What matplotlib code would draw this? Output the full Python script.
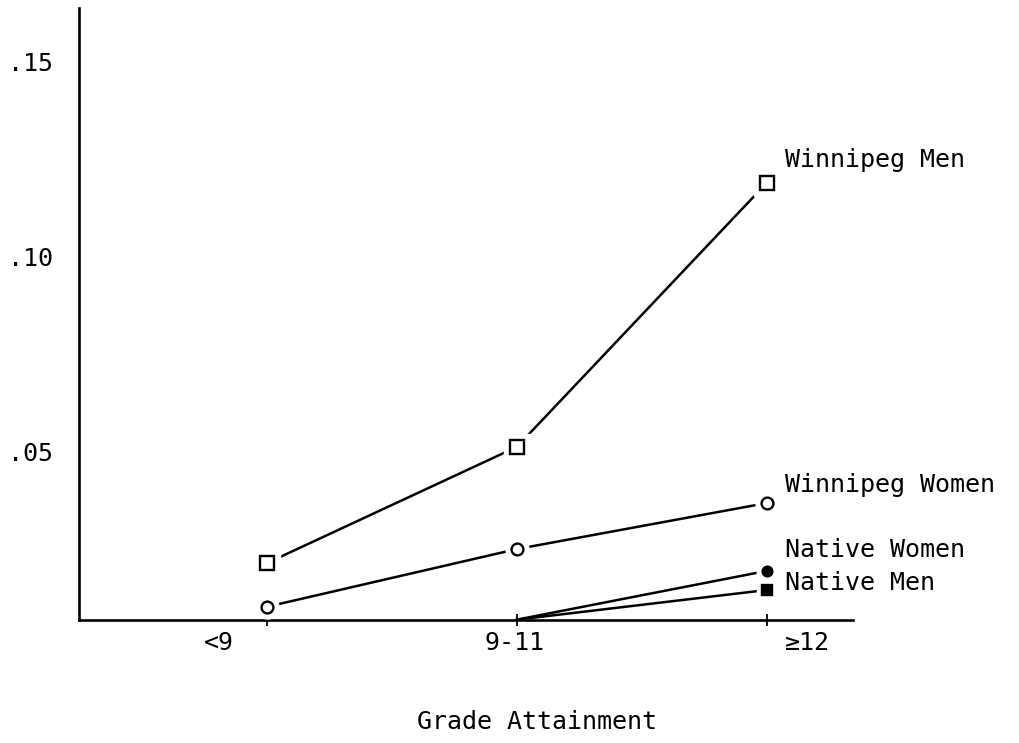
import matplotlib.pyplot as plt

# values
grades = ['<9', '9-11', '≥12']
winnipeg_men = [0.0215, 0.0513, 0.119]
winnipeg_women = [0.0103, 0.0251, 0.0369]
native_grades = [1, 2]            # native series start at 9-11
native_women = [0.007, 0.0195]
native_men = [0.007, 0.0146]
yticks = [0.05, 0.10, 0.15]
ytick_labels = ['.05', '.10', '.15']

mono = 'DejaVu Sans Mono'
plt.rcParams['font.family'] = [mono, 'DejaVu Sans']

fig = plt.figure(figsize=(10.2, 7.43), dpi=100)
ax = fig.add_axes([0.0775, 0.1655, 0.7585, 0.8235])

x = list(range(len(grades)))


def series(xs, ys, marker, ms, filled, show_first=True):
    ax.plot(xs, ys, color='black', lw=1.8, zorder=2)
    mx = xs if show_first else xs[1:]
    my = ys if show_first else ys[1:]
    # white patch so the line stops short of the marker
    ax.plot(mx, my, ls='none', marker=marker, ms=ms + 8, mfc='white',
            mec='white', zorder=3)
    ax.plot(mx, my, ls='none', marker=marker, ms=ms,
            mfc='black' if filled else 'white', mec='black', mew=1.7, zorder=4)


series(x, winnipeg_men, 's', 10.5, False)
series(x, winnipeg_women, 'o', 8.5, False)
series(native_grades, native_women, 'o', 7, True, show_first=False)
series(native_grades, native_men, 's', 6.5, True, show_first=False)

ax.set_xlim(-0.752, 2.344)
ax.set_ylim(0.0069, 0.1638)

ax.spines['top'].set_visible(False)
ax.spines['right'].set_visible(False)
ax.spines['left'].set_linewidth(1.9)
ax.spines['bottom'].set_linewidth(1.9)

ax.set_yticks(yticks)
ax.set_yticklabels(ytick_labels, fontsize=18)
ax.tick_params(axis='y', length=0, pad=19)

ax.set_xticks(x)
ax.set_xticklabels([])
ax.tick_params(axis='x', direction='inout', length=9, width=1.3)

# category labels sit a little off their ticks, as on the typed original
offsets = [-48, -2, 41]
for i, lab in enumerate(grades):
    ax.annotate(lab, xy=(i, 0.0069), xytext=(offsets[i], -23),
                textcoords='offset pixels', ha='center', va='center',
                fontsize=18, annotation_clip=False)

# series labels at the right end
labels = [('Winnipeg Men', winnipeg_men[2], 23),
          ('Winnipeg Women', winnipeg_women[2], 18),
          ('Native Women', native_women[1], 21),
          ('Native Men', native_men[1], 7)]
for text, yv, dy in labels:
    ax.annotate(text, xy=(2, yv), xytext=(18, dy), textcoords='offset pixels',
                ha='left', va='center', fontsize=18, annotation_clip=False)

fig.text(537 / 1020, 1 - 722 / 743, 'Grade Attainment', ha='center',
         va='center', fontsize=18)

fig.savefig('out.png', dpi=100)
